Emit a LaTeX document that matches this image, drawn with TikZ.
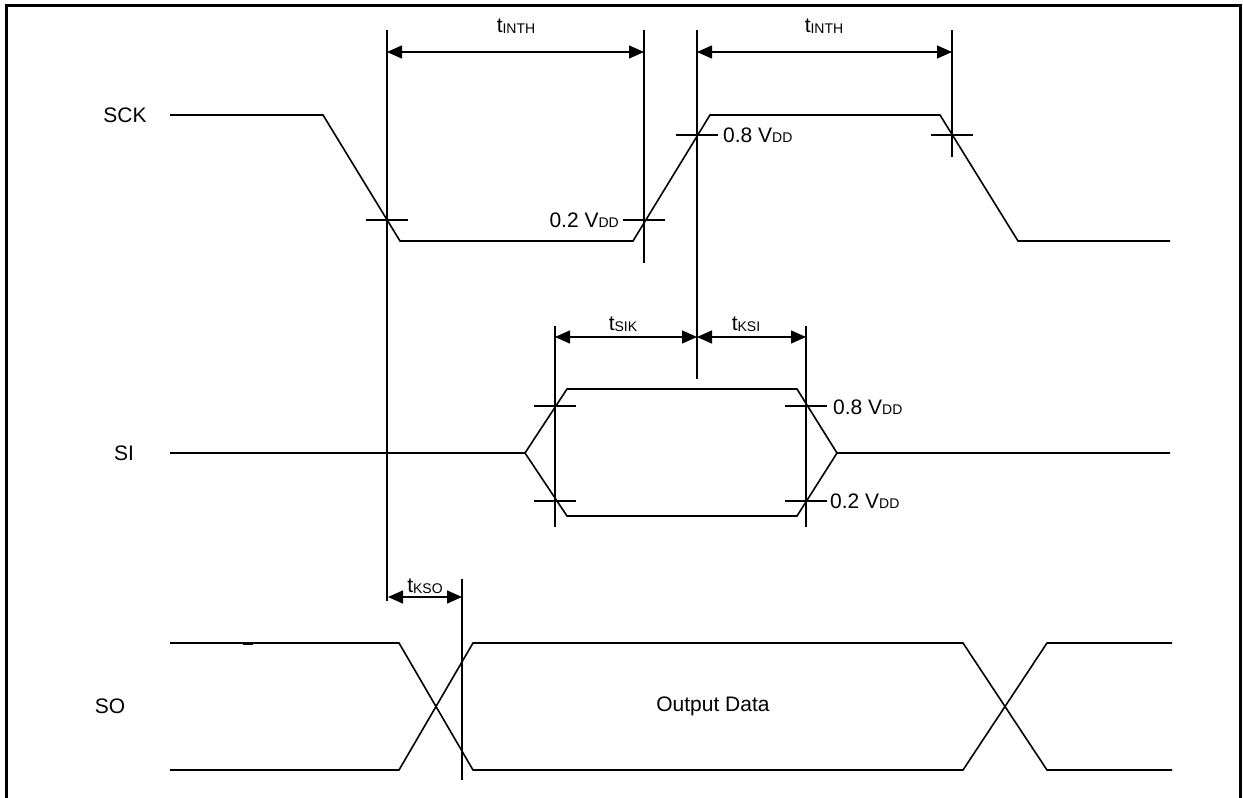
\documentclass[tikz,border=0pt]{standalone}
\usepackage{fontspec}
\setmainfont{Liberation Sans}
\usetikzlibrary{arrows.meta}
\newcommand{\smallsub}[1]{\raisebox{-0.6pt}{\fontsize{14}{16}\selectfont #1}}
\begin{document}
\begin{tikzpicture}[x=1pt,y=-1pt,
  sig/.style={line width=1.6pt, line join=miter},
  guide/.style={line width=1.4pt},
  tick/.style={line width=1.3pt},
  dimarrow/.style={line width=1.4pt, {Triangle[length=15pt,width=13pt]}-{Triangle[length=15pt,width=13pt]}},
  lbl/.style={inner sep=0pt, font=\fontsize{21}{25}\selectfont}]
\useasboundingbox (0,0) rectangle (1243,798);
% frame
\draw[line width=3pt] (6,798) -- (6,5) -- (1240,5) -- (1240,798);

% signal names
\node[lbl] (sck) at (125,115) {SCK};
\node[lbl] (si) at (124,453) {SI};
\node[lbl] (so) at (110,706) {SO};

% SCK waveform
\draw[sig] (170,115) -- (323,115) -- (400,241) -- (633,241) -- (710,115) -- (940,115) -- (1018,241) -- (1170,241);

% SI waveform
\draw[sig] (170,453) -- (525,453) -- (567,389) -- (797,389) -- (837,453) -- (1170,453);
\draw[sig] (525,453) -- (567,516) -- (797,516) -- (837,453);

% SO waveform
\draw[sig] (170,643) -- (399,643) -- (473,770) -- (963,770) -- (1047,643) -- (1172,643);
\draw[sig] (170,770) -- (399,770) -- (473,643) -- (963,643) -- (1047,770) -- (1172,770);
\draw[line width=3pt] (243,643) -- (253,643);
\node[lbl] (od) at (713,706) {Output Data};

% reference lines
\coordinate (v1t) at (387,30);  \coordinate (v1b) at (387,601);
\coordinate (v2t) at (644,30);  \coordinate (v2b) at (644,263);
\coordinate (v3t) at (697,30);  \coordinate (v3b) at (697,379);
\coordinate (v4t) at (952,30);  \coordinate (v4b) at (952,157);
\coordinate (v5t) at (555,326); \coordinate (v5b) at (555,527);
\coordinate (v6t) at (806,326); \coordinate (v6b) at (806,527);
\coordinate (v7t) at (462,579); \coordinate (v7b) at (462,780);
\foreach \a/\b in {v1t/v1b,v2t/v2b,v3t/v3b,v4t/v4b,v5t/v5b,v6t/v6b,v7t/v7b}
  \draw[guide] (\a) -- (\b);

% ticks
\foreach \x/\y in {387/220,644/220,697/135,952/135,555/406,555/501,806/406,806/501}
  \draw[tick] (\x-21,\y) -- (\x+21,\y);

% level labels
\node[lbl, anchor=east] (l02a) at (619,220) {0.2 V\smallsub{DD}};
\node[lbl, anchor=west] (l08a) at (723,135) {0.8 V\smallsub{DD}};
\node[lbl, anchor=west] (l08b) at (833,407) {0.8 V\smallsub{DD}};
\node[lbl, anchor=west] (l02b) at (830,501) {0.2 V\smallsub{DD}};

% dimension arrows
\coordinate (a1l) at (387,52);  \coordinate (a1r) at (644,52);
\coordinate (a2l) at (697,52);  \coordinate (a2r) at (952,52);
\coordinate (a3l) at (555,337); \coordinate (a3r) at (697,337);
\coordinate (a4l) at (697,337); \coordinate (a4r) at (806,337);
\coordinate (a5l) at (388,597); \coordinate (a5r) at (462,597);
\draw[dimarrow] (a1l) -- (a1r);
\draw[dimarrow] (a2l) -- (a2r);
\draw[dimarrow] (a3l) -- (a3r);
\draw[dimarrow] (a4l) -- (a4r);
\draw[dimarrow] (a5l) -- (a5r);

\node[lbl] (t1) at (516,26) {t\smallsub{INTH}};
\node[lbl] (t2) at (824,26) {t\smallsub{INTH}};
\node[lbl] (t3) at (623,324) {t\smallsub{SIK}};
\node[lbl] (t4) at (746,324) {t\smallsub{KSI}};
\node[lbl] (t5) at (425,586) {t\smallsub{KSO}};
\end{tikzpicture}
\end{document}
